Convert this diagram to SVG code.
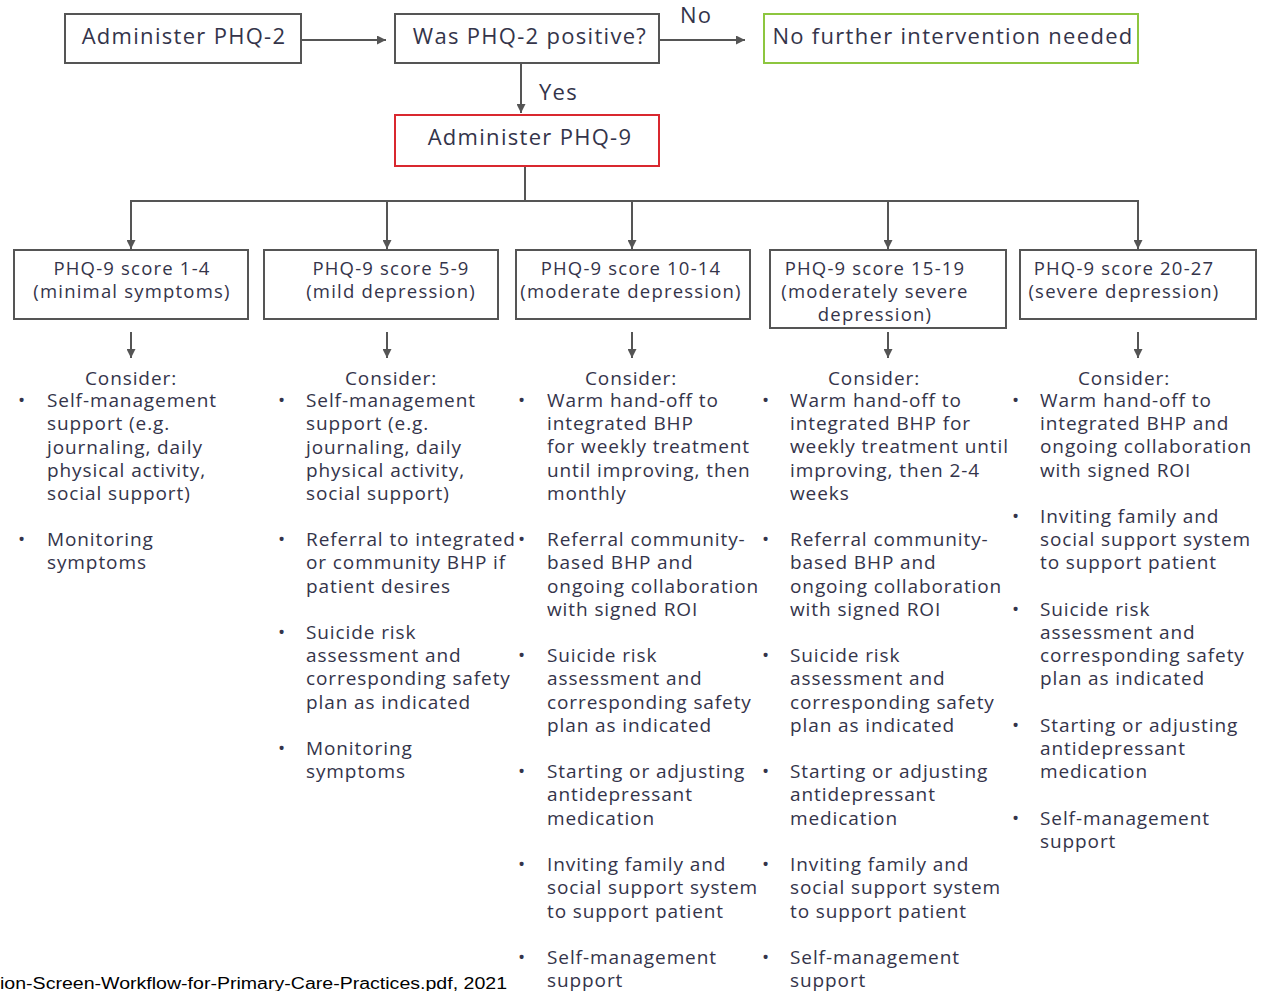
<svg xmlns="http://www.w3.org/2000/svg" width="1266" height="991" viewBox="0 0 1266 991">
  <defs>
    <marker id="arrow" viewBox="0 0 10 10" refX="10" refY="5" markerWidth="10" markerHeight="9" markerUnits="userSpaceOnUse" orient="auto">
      <path d="M0,0 L10,5 L0,10 Z" fill="#555"/>
    </marker>
    <style>
      .box { fill: #fff; stroke: #555; stroke-width: 2; }
      .red { stroke: #d9282f; }
      .green { stroke: #8dc63f; }
      .edge { fill: none; stroke: #555; stroke-width: 2; }
      .arr { marker-end: url(#arrow); }
      text { font-family: "Open Sans", "Noto Sans", sans-serif; fill: #34344a; }
      .big { font-size: 22px; letter-spacing: 1.3px; }
      .mid { font-size: 18.5px; letter-spacing: 1.2px; }
      .body { font-size: 19px; letter-spacing: 0.9px; }
      .c { text-anchor: middle; }
      .cap { font-family: "Liberation Sans", Arial, sans-serif; font-size: 16px; fill: #000; }
    </style>
  </defs>
  <rect width="1266" height="991" fill="#fff"/>

  <!-- connectors -->
  <g id="connectors">
    <line class="edge arr" x1="301" y1="40" x2="386" y2="40"/>
    <line class="edge arr" x1="660" y1="40" x2="745" y2="40"/>
    <line class="edge arr" x1="521" y1="63" x2="521" y2="113"/>
    <text class="big" x="680" y="23">No</text>
    <text class="big" x="539" y="100">Yes</text>
    <polyline class="edge" points="525,166 525,201"/>
    <line class="edge" x1="130" y1="201" x2="1139" y2="201"/>
    <line class="edge arr" x1="131" y1="201" x2="131" y2="249"/>
    <line class="edge arr" x1="387" y1="201" x2="387" y2="249"/>
    <line class="edge arr" x1="632" y1="201" x2="632" y2="249"/>
    <line class="edge arr" x1="888" y1="201" x2="888" y2="249"/>
    <line class="edge arr" x1="1138" y1="201" x2="1138" y2="249"/>
    <line class="edge arr" x1="131" y1="332" x2="131" y2="358"/>
    <line class="edge arr" x1="387" y1="332" x2="387" y2="358"/>
    <line class="edge arr" x1="632" y1="332" x2="632" y2="358"/>
    <line class="edge arr" x1="888" y1="332" x2="888" y2="358"/>
    <line class="edge arr" x1="1138" y1="332" x2="1138" y2="358"/>
  </g>

  <!-- top row -->
  <g id="phq2">
    <rect class="box" x="65" y="14" width="236" height="49"/>
    <text class="big c" x="184" y="44">Administer PHQ-2</text>
  </g>
  <g id="phq2-positive">
    <rect class="box" x="395" y="14" width="264" height="49"/>
    <text class="big c" x="530" y="44">Was PHQ-2 positive?</text>
  </g>
  <g id="no-further">
    <rect class="box green" x="764" y="14" width="374" height="49"/>
    <text class="big c" x="953" y="44">No further intervention needed</text>
  </g>
  <g id="phq9">
    <rect class="box red" x="395" y="115" width="264" height="51"/>
    <text class="big c" x="530" y="145">Administer PHQ-9</text>
  </g>

  <!-- score boxes -->
  <g id="score-1-4">
    <rect class="box" x="14" y="250" width="234" height="69"/>
    <text class="mid c" x="132" y="275">PHQ-9 score 1-4</text>
    <text class="mid c" x="132" y="298">(minimal symptoms)</text>
  </g>
  <g id="score-5-9">
    <rect class="box" x="264" y="250" width="234" height="69"/>
    <text class="mid c" x="391" y="275">PHQ-9 score 5-9</text>
    <text class="mid c" x="391" y="298">(mild depression)</text>
  </g>
  <g id="score-10-14">
    <rect class="box" x="516" y="250" width="234" height="69"/>
    <text class="mid c" x="631" y="275">PHQ-9 score 10-14</text>
    <text class="mid c" x="631" y="298">(moderate depression)</text>
  </g>
  <g id="score-15-19">
    <rect class="box" x="770" y="250" width="236" height="78"/>
    <text class="mid c" x="875" y="275">PHQ-9 score 15-19</text>
    <text class="mid c" x="875" y="298">(moderately severe</text>
    <text class="mid c" x="875" y="321">depression)</text>
  </g>
  <g id="score-20-27">
    <rect class="box" x="1020" y="250" width="236" height="69"/>
    <text class="mid c" x="1124" y="275">PHQ-9 score 20-27</text>
    <text class="mid c" x="1124" y="298">(severe depression)</text>
  </g>

  <!-- recommendation lists -->
  <g id="actions-1-4">
    <text class="body c" x="131" y="385">Consider:</text>
    <text class="body" x="18" y="407">•</text>
    <text class="body" x="47" y="407">Self-management</text>
    <text class="body" x="47" y="430">support (e.g.</text>
    <text class="body" x="47" y="454">journaling, daily</text>
    <text class="body" x="47" y="477">physical activity,</text>
    <text class="body" x="47" y="500">social support)</text>
    <text class="body" x="18" y="546">•</text>
    <text class="body" x="47" y="546">Monitoring</text>
    <text class="body" x="47" y="569">symptoms</text>
  </g>

  <g id="actions-5-9">
    <text class="body c" x="391" y="385">Consider:</text>
    <text class="body" x="278" y="407">•</text>
    <text class="body" x="306" y="407">Self-management</text>
    <text class="body" x="306" y="430">support (e.g.</text>
    <text class="body" x="306" y="454">journaling, daily</text>
    <text class="body" x="306" y="477">physical activity,</text>
    <text class="body" x="306" y="500">social support)</text>
    <text class="body" x="278" y="546">•</text>
    <text class="body" x="306" y="546">Referral to integrated</text>
    <text class="body" x="306" y="569">or community BHP if</text>
    <text class="body" x="306" y="593">patient desires</text>
    <text class="body" x="278" y="639">•</text>
    <text class="body" x="306" y="639">Suicide risk</text>
    <text class="body" x="306" y="662">assessment and</text>
    <text class="body" x="306" y="685">corresponding safety</text>
    <text class="body" x="306" y="709">plan as indicated</text>
    <text class="body" x="278" y="755">•</text>
    <text class="body" x="306" y="755">Monitoring</text>
    <text class="body" x="306" y="778">symptoms</text>
  </g>

  <g id="actions-10-14">
    <text class="body c" x="631" y="385">Consider:</text>
    <text class="body" x="518" y="407">•</text>
    <text class="body" x="547" y="407">Warm hand-off to</text>
    <text class="body" x="547" y="430">integrated BHP</text>
    <text class="body" x="547" y="453">for weekly treatment</text>
    <text class="body" x="547" y="477">until improving, then</text>
    <text class="body" x="547" y="500">monthly</text>
    <text class="body" x="518" y="546">•</text>
    <text class="body" x="547" y="546">Referral community-</text>
    <text class="body" x="547" y="569">based BHP and</text>
    <text class="body" x="547" y="593">ongoing collaboration</text>
    <text class="body" x="547" y="616">with signed ROI</text>
    <text class="body" x="518" y="662">•</text>
    <text class="body" x="547" y="662">Suicide risk</text>
    <text class="body" x="547" y="685">assessment and</text>
    <text class="body" x="547" y="709">corresponding safety</text>
    <text class="body" x="547" y="732">plan as indicated</text>
    <text class="body" x="518" y="778">•</text>
    <text class="body" x="547" y="778">Starting or adjusting</text>
    <text class="body" x="547" y="801">antidepressant</text>
    <text class="body" x="547" y="825">medication</text>
    <text class="body" x="518" y="871">•</text>
    <text class="body" x="547" y="871">Inviting family and</text>
    <text class="body" x="547" y="894">social support system</text>
    <text class="body" x="547" y="918">to support patient</text>
    <text class="body" x="518" y="964">•</text>
    <text class="body" x="547" y="964">Self-management</text>
    <text class="body" x="547" y="987">support</text>
  </g>

  <g id="actions-15-19">
    <text class="body c" x="874" y="385">Consider:</text>
    <text class="body" x="762" y="407">•</text>
    <text class="body" x="790" y="407">Warm hand-off to</text>
    <text class="body" x="790" y="430">integrated BHP for</text>
    <text class="body" x="790" y="453">weekly treatment until</text>
    <text class="body" x="790" y="477">improving, then 2-4</text>
    <text class="body" x="790" y="500">weeks</text>
    <text class="body" x="762" y="546">•</text>
    <text class="body" x="790" y="546">Referral community-</text>
    <text class="body" x="790" y="569">based BHP and</text>
    <text class="body" x="790" y="593">ongoing collaboration</text>
    <text class="body" x="790" y="616">with signed ROI</text>
    <text class="body" x="762" y="662">•</text>
    <text class="body" x="790" y="662">Suicide risk</text>
    <text class="body" x="790" y="685">assessment and</text>
    <text class="body" x="790" y="709">corresponding safety</text>
    <text class="body" x="790" y="732">plan as indicated</text>
    <text class="body" x="762" y="778">•</text>
    <text class="body" x="790" y="778">Starting or adjusting</text>
    <text class="body" x="790" y="801">antidepressant</text>
    <text class="body" x="790" y="825">medication</text>
    <text class="body" x="762" y="871">•</text>
    <text class="body" x="790" y="871">Inviting family and</text>
    <text class="body" x="790" y="894">social support system</text>
    <text class="body" x="790" y="918">to support patient</text>
    <text class="body" x="762" y="964">•</text>
    <text class="body" x="790" y="964">Self-management</text>
    <text class="body" x="790" y="987">support</text>
  </g>

  <g id="actions-20-27">
    <text class="body c" x="1124" y="385">Consider:</text>
    <text class="body" x="1012" y="407">•</text>
    <text class="body" x="1040" y="407">Warm hand-off to</text>
    <text class="body" x="1040" y="430">integrated BHP and</text>
    <text class="body" x="1040" y="453">ongoing collaboration</text>
    <text class="body" x="1040" y="477">with signed ROI</text>
    <text class="body" x="1012" y="523">•</text>
    <text class="body" x="1040" y="523">Inviting family and</text>
    <text class="body" x="1040" y="546">social support system</text>
    <text class="body" x="1040" y="569">to support patient</text>
    <text class="body" x="1012" y="616">•</text>
    <text class="body" x="1040" y="616">Suicide risk</text>
    <text class="body" x="1040" y="639">assessment and</text>
    <text class="body" x="1040" y="662">corresponding safety</text>
    <text class="body" x="1040" y="685">plan as indicated</text>
    <text class="body" x="1012" y="732">•</text>
    <text class="body" x="1040" y="732">Starting or adjusting</text>
    <text class="body" x="1040" y="755">antidepressant</text>
    <text class="body" x="1040" y="778">medication</text>
    <text class="body" x="1012" y="825">•</text>
    <text class="body" x="1040" y="825">Self-management</text>
    <text class="body" x="1040" y="848">support</text>
  </g>

  <!-- source note -->
  <text class="cap" x="0" y="989" textLength="507" lengthAdjust="spacingAndGlyphs">ion-Screen-Workflow-for-Primary-Care-Practices.pdf, 2021</text>
</svg>
